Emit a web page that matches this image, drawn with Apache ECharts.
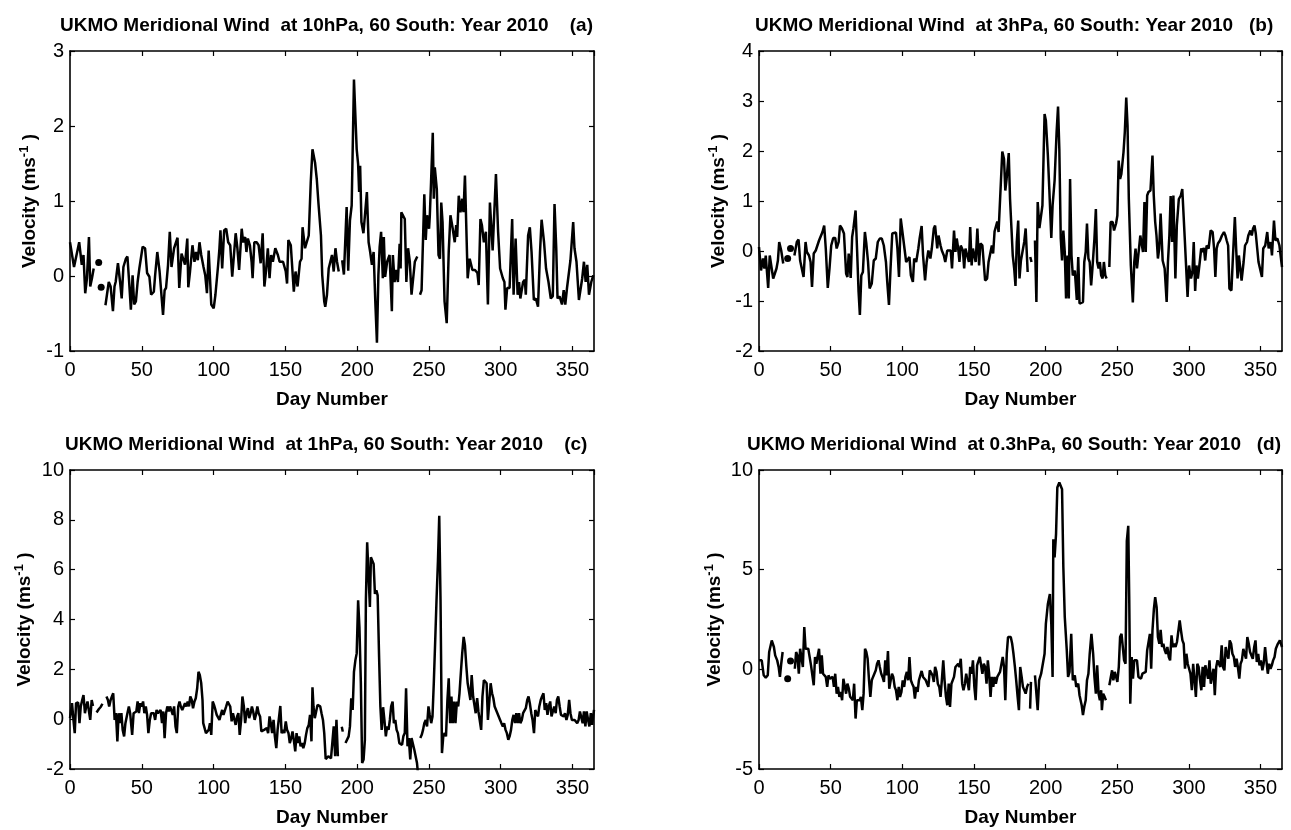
<!DOCTYPE html>
<html><head><meta charset="utf-8">
<script src="https://cdn.jsdelivr.net/npm/echarts@6/dist/echarts.min.js"></script>
<style>html,body{margin:0;padding:0;background:#fff}#c{width:1291px;height:830px}</style>
</head><body><div id="c"></div><script>
const titles = [
  'UKMO Meridional Wind  at 10hPa, 60 South: Year 2010    (a)',
  'UKMO Meridional Wind  at 3hPa, 60 South: Year 2010   (b)',
  'UKMO Meridional Wind  at 1hPa, 60 South: Year 2010    (c)',
  'UKMO Meridional Wind  at 0.3hPa, 60 South: Year 2010   (d)'
];
const xLabel = 'Day Number';
const yLabel = 'Velocity (ms{sup|-1} )';
const dayTicks = [0, 365, 50];
const yTicksA = [-1, 3, 1];
const yTicksB = [-2, 4, 1];
const yTicksC = [-2, 10, 2];
const yTicksD = [-5, 10, 5];

// [day, velocity] pairs; null breaks the line
const windA = [[0,0.45],[2.8,0.12],[6.4,0.45],[8.2,0.15],[9.4,0.28],[10.6,-0.23],[11.8,-0.03],[13.2,0.52],[14.1,-0.14],[15.3,-0.03],[16.5,0.10],[18,null],
[24.7,-0.39],[27,-0.08],[28.3,-0.14],[29.9,-0.47],[31,-0.14],[31.8,-0.08],[33.4,0.17],[34.9,-0.08],[36,-0.30],[37.2,0.12],[38.9,0.23],[40,0.26],[41.2,-0.08],[42.4,-0.45],[43.6,0.01],[44.7,-0.38],[45.9,-0.34],[47.1,-0.08],[48.3,0.10],[49.5,0.12],[50.6,0.39],[52.3,0.37],[53.7,0.04],[55.3,-0.01],[56.5,-0.25],[58.4,-0.21],[59.3,0.01],[60.8,0.32],[62.4,0.06],[64.8,-0.52],[65.9,-0.19],[66.9,-0.16],[68.3,0.15],[69.5,0.59],[70.7,0.12],[72.5,0.37],[74.9,0.51],[76.1,-0.16],[77.7,0.30],[80.1,0.15],[81.7,0.50],[82.4,-0.15],[83.6,0.06],[85.3,0.41],[86.7,0.19],[87.8,0.32],[89,0.21],[90.2,0.45],[91.4,0.28],[93,0.12],[94.2,0.01],[95.4,-0.23],[96.6,0.34],[98.4,-0.38],[100.1,-0.43],[101.3,-0.25],[103.2,0.15],[104.1,0.37],[104.8,0.61],[106,0.10],[107.4,0.61],[108.8,0.63],[110.2,0.45],[111.6,0.41],[113,-0.01],[114.2,0.28],[115.4,0.57],[116.6,0.37],[117.8,0.08],[119.6,0.63],[120.6,0.45],[122,0.52],[122.9,0.32],[123.9,0.50],[125.3,0.41],[126.5,0.19],[127.2,-0.03],[128.4,0.45],[130,0.45],[131.4,0.41],[132.8,0.17],[134.2,0.57],[135.4,-0.14],[136.6,0.08],[137.8,0.37],[139,-0.03],[140.1,0.28],[141.3,0.19],[143,0.37],[144.8,0.28],[146,0.19],[148.4,0.19],[150.3,0.06],[151.2,-0.10],[152.1,0.48],[153.8,0.41],[155.9,-0.21],[157.1,0.06],[158.5,-0.14],[160.2,0.19],[161.3,0.23],[162,0.65],[163.7,0.37],[164.9,0.45],[166.3,0.54],[167.7,1.25],[168.9,1.69],[170.7,1.51],[171.9,1.29],[173.1,0.96],[173.8,0.94],[174.8,0.54],[175.7,0.01],[177.1,-0.34],[177.8,-0.41],[179,-0.25],[180.2,0.10],[181.3,0.10],[182.5,0.28],[183.7,0.06],[184.9,0.37],[186,0.19],[187.2,0.06],[188.4,null],
[189.6,0.21],[190.8,0.02],[192.7,0.92],[193.8,0.07],[195,0.74],[196.2,0.94],[197.8,2.62],[199.7,1.69],[200.7,1.49],[201.4,1.12],[202.1,1.47],[203,0.72],[204.4,0.57],[206.8,1.12],[208,0.45],[209.1,0.32],[210.3,0.15],[211.5,0.32],[212.7,-0.36],[213.8,-0.89],[214.8,0.01],[215.7,0.39],[216.7,0.59],[217.9,-0.03],[218.6,0.52],[219.5,-0.01],[220.9,0.19],[222.6,0.28],[224.2,-0.47],[224.9,0.28],[226.1,-0.08],[227.3,0.08],[228.4,-0.08],[229.6,0.43],[230.3,0.10],[230.8,0.85],[232,0.83],[233.2,0.76],[234.3,-0.08],[235.5,0.37],[236.7,0.19],[237.9,-0.25],[239,-0.23],[240.2,0.19],[241.9,0.26],[243,null],
[243.8,-0.25],[244.9,-0.19],[246.8,1.09],[247.8,0.48],[248.7,0.81],[250.1,0.63],[250.6,0.79],[251.5,1.25],[252.7,1.91],[253.4,1.03],[254.1,1.45],[255.5,1.16],[256.7,0.28],[257.7,0.23],[258.6,0.98],[259.5,0.72],[260.9,-0.34],[262.4,-0.63],[263.8,0.32],[265,0.81],[266.6,0.63],[268,0.45],[269,0.68],[269.7,0.52],[270.8,1.07],[272,0.85],[273.2,1.03],[274.1,0.85],[275.1,1.34],[276,1.36],[277,-0.03],[278.4,0.23],[280.3,0.08],[282.1,0.08],[283.8,0.04],[284.7,-0.12],[285.9,0.76],[286.9,0.68],[288.3,0.45],[289.7,0.59],[291.1,-0.38],[292.5,0.98],[294.4,0.34],[296.7,1.36],[298.2,0.59],[299.6,0.10],[301.5,-0.03],[302.6,-0.08],[303.3,-0.45],[304.5,-0.16],[306.2,-0.16],[308,0.76],[309,-0.25],[310.4,0.50],[311.8,-0.25],[312.8,-0.08],[313.7,-0.30],[315.6,-0.08],[316.8,-0.05],[317.5,-0.25],[319.1,0.54],[320.3,0.65],[321.5,0.32],[323.1,-0.32],[324.5,-0.30],[326,-0.41],[327.4,0.32],[328.5,0.75],[330.2,0.45],[331.6,0.10],[333.3,-0.08],[334.9,-0.30],[336.3,-0.27],[337.5,0.96],[338.7,0.37],[339.6,-0.30],[341,-0.27],[342.7,-0.38],[343.9,-0.19],[345,-0.38],[346.2,-0.16],[348.6,0.21],[350.5,0.72],[351.4,0.37],[352.8,0.19],[354.5,-0.32],[355.7,-0.34],[356.8,-0.03],[358,0.19],[359.2,-0.08],[360.3,0.15],[361.5,-0.25],[363.1,-0.08],[364.5,0.01]];
const dotsA = [[20,0.18],[21.7,-0.15]];

const windB = [[0,0.08],[1.4,-0.39],[2.8,-0.15],[3.8,-0.35],[4.7,-0.09],[6.4,-0.74],[7.5,-0.09],[8.7,-0.12],[9.9,-0.55],[10.8,-0.59],[12.2,-0.35],[13.2,-0.19],[14.1,0.18],[15.5,0.01],[16.9,-0.25],[18.5,null],
[24.7,-0.09],[26.4,0.18],[27.6,0.23],[28.7,-0.19],[29.9,-0.22],[31.1,-0.52],[32.5,0.18],[33.4,-0.02],[34.9,-0.09],[36,-0.22],[37,-0.72],[38.2,-0.05],[39.6,0.01],[40.7,0.01],[41.9,0.21],[43.1,0.21],[44.3,0.38],[45.5,0.51],[46.6,0.05],[48,-0.74],[49.2,-0.35],[50.4,0.11],[51.8,0.26],[53.2,0.26],[54.2,0.05],[55.6,0.18],[56.5,0.51],[57.9,0.45],[59.3,0.35],[60.8,-0.45],[61.7,-0.52],[62.6,-0.05],[64,-0.54],[65,0.28],[65.9,0.45],[67.4,0.81],[68.5,-0.02],[69.5,-0.82],[70.4,-1.28],[71.4,-0.49],[72.5,-0.42],[73.9,0.38],[74.9,0.15],[76.1,-0.22],[77.2,-0.75],[78.7,-0.65],[80.1,-0.19],[81.5,-0.15],[82.9,0.18],[84.3,0.25],[85.7,0.25],[87.1,0.11],[88.6,-0.22],[89.5,-0.62],[90.7,-1.08],[91.8,-0.35],[93,0.35],[94.2,0.38],[95.6,0.37],[96.6,0.05],[97.7,-0.52],[98.9,0.65],[100.1,0.38],[101.3,0.38],[102.7,-0.22],[103.6,-0.25],[105,-0.12],[106,-0.49],[107.4,-0.62],[108.3,-0.15],[109.7,-0.22],[111.2,0.05],[112.1,0.25],[113.5,0.50],[114.5,-0.09],[115.9,-0.59],[117,-0.22],[118.2,0.01],[119.6,-0.15],[120.6,0.05],[122,0.45],[122.9,0.51],[124.4,0.05],[125.3,0.31],[126.7,0.11],[127.6,0.01],[129,-0.09],[130,-0.22],[131.4,0.01],[132.4,-0.02],[133.8,0.01],[134.7,-0.35],[136.1,0.41],[137.1,-0.02],[138,0.25],[139,0.05],[139.9,-0.22],[140.8,0.11],[142.3,0.01],[143.2,-0.35],[144.1,0.05],[145.1,0.08],[146.5,-0.22],[147.4,0.48],[148.4,-0.29],[149.3,0.05],[150.3,-0.09],[151.2,-0.22],[152.4,0.45],[153.6,-0.29],[154.5,0.15],[155.9,0.11],[156.8,0.15],[157.8,-0.59],[159.2,-0.55],[160.2,-0.22],[161.5,-0.22],[162.5,0.11],[163.4,-0.05],[164.4,0.39],[165.3,0.35],[166.3,0.59],[167.2,0.38],[168.4,0.41],[169.8,1.99],[171,1.84],[171.9,1.21],[172.8,1.44],[174.3,1.96],[175.2,1.04],[176.2,0.45],[177.1,-0.09],[178.1,-0.35],[179,-0.70],[179.9,0.18],[180.9,0.61],[181.8,-0.55],[182.8,-0.19],[183.7,-0.15],[185.1,0.18],[186.1,0.45],[187.5,-0.42],[188.4,null],[189.3,-0.12],[190.2,-0.22],[191.4,null],
[192.6,0.21],[193.6,-1.02],[194.5,0.98],[195.7,0.46],[196.8,0.45],[197.8,0.91],[199.3,2.74],[200.2,2.61],[201.6,1.91],[202.6,1.24],[204,0.26],[204.9,0.91],[206.3,1.41],[206.8,1.39],[207.7,2.38],[208.7,2.89],[209.6,2.04],[210.6,0.25],[211.5,-0.19],[212.4,0.41],[213.4,-0.02],[214.3,-0.95],[215.3,-0.09],[216.2,-0.95],[217.1,1.44],[218.1,-0.09],[219,-0.49],[220.4,-0.39],[221.8,-0.98],[222.8,-0.12],[223.7,-1.05],[224.7,-1.08],[226.1,-1.02],[227,-0.22],[228,-0.02],[228.9,0.55],[229.9,-0.15],[230.8,-0.22],[231.8,-0.69],[232.7,-0.35],[234.1,0.25],[235.1,0.84],[236,-0.22],[237,-0.35],[237.9,-0.22],[238.8,-0.49],[239.8,-0.55],[240.7,-0.22],[241.7,-0.49],[242.6,-0.55],[243.5,null],
[244.5,-0.32],[245.4,0.58],[246.8,0.58],[247.8,0.41],[249.2,0.55],[250.1,0.71],[251,1.81],[252,1.44],[252.9,1.54],[254.4,1.98],[255.3,2.38],[256.3,3.07],[257.2,2.51],[258.1,1.04],[259.5,-0.29],[260.9,-1.03],[261.9,-0.22],[262.8,0.05],[263.8,-0.35],[265.2,0.05],[266.1,0.31],[267.1,0.35],[268,-0.02],[269,0.98],[269.9,-0.02],[270.9,1.11],[271.8,1.18],[273.2,1.21],[274.6,1.91],[275.5,1.11],[276.5,0.58],[277.4,0.31],[278.4,-0.15],[279.3,0.05],[280.3,0.75],[281.7,-0.19],[283.1,-0.35],[284.5,-1.02],[285.4,-0.22],[286.4,0.31],[287.3,1.10],[288.3,0.18],[289.2,1.11],[290.6,-0.55],[291.6,0.51],[293,1.04],[294.4,1.11],[295.4,1.24],[296.3,1.24],[297.2,0.21],[298.2,0.25],[299.1,-0.92],[300.1,-0.29],[301.5,-0.55],[302.5,-0.42],[303.4,0.18],[304.4,-0.80],[305.3,-0.29],[306.3,-0.55],[307.6,-0.22],[308.6,0.05],[309.5,-0.02],[310.5,0.06],[311.4,-0.19],[312.4,0.11],[313.8,0.05],[315.2,0.41],[316.6,0.38],[317.6,0.05],[318.5,-0.52],[319.4,0.05],[320.3,0.15],[321.7,0.21],[323.1,0.31],[324.5,0.38],[325.5,0.31],[326.4,0.21],[327.4,0.11],[328.3,-0.75],[329.7,-0.79],[330.7,-0.15],[332.1,0.68],[333,0.05],[334,-0.55],[334.9,-0.09],[335.9,-0.05],[336.8,-0.59],[338.2,-0.22],[339.2,0.11],[340.6,0.18],[341.5,0.31],[342.9,0.41],[343.9,0.31],[344.8,0.45],[345.8,0.51],[346.7,0.35],[347.7,0.05],[348.6,-0.22],[349.6,-0.25],[351,-0.52],[351.9,0.05],[353.3,0.11],[354.7,0.38],[355.7,0.05],[357.1,0.18],[358,-0.09],[359.4,0.61],[360.4,0.21],[361.8,0.25],[363.2,0.11],[365,-0.32]];
const dotsB = [[20,-0.15],[22,0.05]];

const windC = [[0,0.04],[1.4,0.64],[2.4,-0.03],[3.3,-0.56],[4.2,0.64],[5.7,0.67],[6.6,-0.16],[7.5,0.51],[8.5,0.77],[9.4,0.97],[10.4,0.24],[11.3,0.51],[12.2,0.71],[13.2,0.77],[14.1,-0.03],[15.1,0.77],[16,0.53],[17.3,null],[18.5,0.27],[20,0.40],[21.5,0.50],[22.6,0.62],[24,null],
[25.4,0.91],[26.4,0.77],[27.3,0.51],[28.3,0.77],[29.2,0.91],[30.1,1.04],[31.1,-0.03],[32,0.24],[33,-0.89],[33.9,0.24],[34.9,-0.16],[35.8,0.24],[36.7,-0.43],[37.7,-0.69],[38.6,-0.16],[40,0.24],[41,0.51],[41.9,0.24],[43.3,-0.63],[44.3,0.24],[45.2,0.24],[46.2,0.31],[47.1,0.71],[48,0.24],[49,0.64],[49.9,0.51],[50.9,0.71],[51.8,0.24],[52.8,0.51],[53.7,0.17],[54.6,-0.56],[55.6,-0.03],[56.5,0.24],[57.5,0.17],[58.4,0.24],[59.3,-0.03],[60.3,0.37],[61.2,0.24],[62.2,0.17],[63.1,0.37],[64.1,-0.16],[65,0.31],[65.9,-0.76],[66.9,0.24],[67.8,0.51],[68.8,0.31],[69.7,0.51],[70.7,0.51],[71.6,0.17],[72.5,0.51],[73.5,-0.29],[74.4,-0.56],[75.4,0.51],[76.3,0.71],[77.2,0.51],[78.2,0.37],[79.1,0.31],[80.1,0.64],[81,0.51],[82,0.71],[82.9,0.51],[83.8,0.91],[84.8,0.77],[85.7,0.44],[86.7,0.71],[87.6,0.84],[88.6,1.24],[89.5,1.90],[90.4,1.77],[91.4,1.44],[92.3,0.77],[92.8,-0.16],[93.7,-0.23],[94.7,-0.56],[95.6,-0.56],[96.6,-0.43],[97.5,-0.16],[98.4,-0.63],[99.4,0.71],[100.3,0.57],[101.3,0.37],[102.2,0.17],[103.2,0.24],[104.1,-0.03],[105,0.17],[106,0.37],[106.9,0.17],[107.9,0.24],[108.8,0.51],[109.8,0.71],[110.7,0.71],[111.6,0.51],[112.6,-0.09],[113.5,0.24],[114.5,0.17],[115.4,-0.23],[116.4,0.11],[117.3,0.24],[118.2,-0.63],[119.2,-0.03],[120.1,0.91],[121.1,0.51],[122,-0.16],[122.9,0.24],[123.9,0.44],[124.8,0.04],[125.8,0.24],[126.7,0.51],[127.6,0.31],[128.6,-0.03],[129.5,0.17],[130.5,0.51],[131.4,0.24],[132.4,0.11],[133.3,-0.49],[134.3,-0.56],[135.2,-0.43],[136.1,-0.49],[137.1,-0.36],[138,-0.56],[139,0.11],[139.9,-0.16],[140.8,-0.56],[141.8,-0.03],[142.7,-0.69],[143.7,-1.16],[144.6,-0.43],[145.6,-0.43],[146.5,0.53],[147.4,-0.56],[148.4,-0.43],[149.3,-0.56],[150.3,-0.09],[151.2,-0.43],[152.2,-0.56],[153.1,-0.96],[154.1,-0.76],[155,-0.49],[155.9,-0.83],[156.9,-1.29],[157.8,-0.56],[158.8,-0.96],[159.7,-0.69],[160.6,-1.09],[161.6,-0.96],[162.5,-1.16],[163.5,-0.96],[164.4,-0.63],[165.3,-0.36],[166.3,-0.23],[167.2,0.17],[168.2,-0.89],[168.9,1.28],[169.6,0.51],[170.5,0.04],[171.5,0.11],[172.4,0.57],[173.4,0.61],[174.3,0.51],[175.2,0.24],[176.2,-0.03],[177.1,-0.56],[178.1,-1.60],[179,-1.56],[179.9,-1.49],[180.9,-1.49],[181.8,-1.57],[182.8,-1.49],[183.7,-0.29],[184.7,-1.49],[185.6,-0.03],[186.6,-1.49],[188,null],[189.3,-0.30],[190,-0.50],[190.8,null],
[191.9,-0.96],[193.1,-0.89],[194.1,-0.69],[195,-0.29],[195.9,0.84],[196.9,0.37],[197.8,1.90],[198.8,2.37],[199.7,2.64],[200.7,4.77],[201.6,3.70],[202.6,1.44],[203.5,-1.76],[204.5,-1.62],[205.4,-0.83],[206.1,4.77],[207,7.10],[208,5.70],[208.9,4.50],[209.6,6.50],[210.6,6.43],[211.5,6.23],[212.4,5.03],[213.4,5.17],[214.3,4.97],[215.3,2.50],[216.2,0.51],[217.1,-0.43],[218.1,0.48],[219,-0.03],[220,-0.69],[220.9,-0.29],[221.9,-0.43],[222.8,-0.03],[223.7,0.51],[224.7,0.71],[225.6,-0.16],[226.6,-0.03],[227.5,-0.43],[228.4,-0.56],[229.4,-0.96],[230.3,-0.89],[231.3,-1.03],[232.2,-0.69],[233.2,-0.56],[234.1,1.24],[235.1,-1.09],[236,-0.76],[237,-1.62],[237.9,-0.76],[238.8,-0.83],[239.8,-1.22],[240.7,-1.22],[241.7,-1.76],[242.6,-2.30],[243.3,null],
[244,-0.76],[245,-0.63],[245.9,-0.43],[246.8,-0.16],[247.8,-0.03],[248.7,-0.29],[249.7,0.51],[250.6,0.17],[251.6,-0.16],[252.5,0.11],[253.4,1.44],[254.4,3.17],[255.3,4.77],[256.3,6.36],[257.2,8.16],[258.1,4.77],[259.1,-1.36],[260,-0.69],[261,-0.56],[261.9,-0.69],[262.9,0.77],[263.8,1.64],[264.8,-0.16],[265.7,0.91],[266.6,-0.16],[267.6,0.71],[268.5,-0.16],[269.5,0.71],[270.4,0.51],[271.3,1.04],[272.3,1.90],[273.2,2.64],[274.2,3.30],[275.1,2.97],[276.1,2.10],[277,1.44],[278,1.37],[278.9,0.77],[279.8,1.77],[280.8,0.91],[281.7,0.97],[282.6,0.24],[283.6,0.84],[284.5,0.31],[285.5,0.37],[286.4,-0.43],[287.3,0.91],[288.3,1.57],[289.2,1.57],[290.2,1.44],[291.1,-0.03],[292.1,0.71],[293,1.44],[294,1.04],[294.9,0.84],[295.8,0.51],[296.8,0.57],[297.7,0.24],[298.7,0.17],[299.6,-0.03],[300.5,-0.16],[301.5,-0.29],[302.4,-0.16],[303.4,-0.43],[304.3,-0.56],[305.3,-0.83],[306.2,-0.69],[307.2,-0.43],[308.1,-0.03],[309,0.17],[310,-0.16],[310.9,0.24],[311.9,-0.16],[312.8,0.24],[313.7,-0.16],[314.7,-0.03],[315.6,0.24],[316.6,0.17],[317.5,0.44],[318.5,0.77],[319.4,0.91],[320.3,0.64],[321.3,0.24],[322.2,-0.03],[323.2,-0.56],[324.1,0.37],[325,0.24],[326,0.11],[326.9,0.51],[327.9,0.77],[328.8,0.91],[329.8,1.04],[330.7,0.37],[331.7,0.64],[332.6,0.17],[333.5,0.51],[334.5,0.71],[335.4,0.11],[336.4,0.17],[337.3,0.51],[338.3,0.24],[339.2,0.77],[340.1,0.91],[341.1,0.51],[342,0.17],[343,0.24],[343.9,0.11],[344.8,0.24],[345.8,-0.03],[346.7,0.17],[347.7,0.77],[348.6,0.24],[349.6,-0.03],[350.5,0.04],[351.5,-0.03],[352.4,-0.03],[353.3,-0.16],[354.3,-0.03],[355.2,0.31],[356.1,0.37],[357.1,-0.16],[358,0.31],[359,-0.29],[359.9,0.31],[360.9,-0.03],[361.8,-0.29],[362.8,0.24],[363.7,-0.23],[365,0.37]];
const dotsC = [];

const windD = [[0,0.45],[1.9,0.45],[3.3,-0.30],[4.7,-0.42],[6.1,-0.30],[7.1,0.87],[8,0.82],[8.9,1.45],[10.4,1.12],[11.3,0.70],[12.7,0.45],[13.7,0.12],[14.6,-0.38],[15.5,0.28],[16.5,0.87],[18,null],
[25,0.03],[25.9,0.87],[26.8,0.70],[27.8,-0.22],[28.7,1.03],[29.7,0.95],[30.6,0.12],[31.6,2.12],[32.5,1.03],[33.4,1.12],[34.4,1.03],[35.3,1.12],[36.3,0.20],[37.2,0.28],[38.2,-0.80],[39.1,0.62],[40,0.28],[41,0.20],[41.9,1.03],[42.9,-0.22],[43.8,0.70],[44.7,-0.22],[45.7,-0.30],[46.6,-0.38],[47.6,-0.88],[48.5,-0.30],[49.5,-0.47],[50.4,-0.55],[51.4,-0.38],[52.3,-0.88],[53.2,-0.22],[54.2,-1.22],[55.1,-0.88],[56.1,-1.38],[57,-1.13],[58,-1.55],[58.9,-0.47],[59.8,-0.55],[60.8,-1.22],[61.7,-0.72],[62.7,-0.97],[63.6,-1.38],[64.6,-1.38],[65.5,-1.55],[66.4,-0.72],[67.4,-2.47],[68.3,-1.55],[69.3,-1.47],[70.2,-1.55],[71.1,-1.38],[72.1,-2.05],[73,-1.22],[74,1.03],[74.9,0.87],[75.8,0.53],[76.8,-0.55],[77.7,-1.38],[78.7,-0.55],[79.6,-0.38],[80.5,-0.30],[81.5,-0.05],[82.4,0.28],[83.4,0.45],[84.3,0.12],[85.3,-0.22],[86.2,-0.38],[87.2,-0.63],[88.1,0.45],[89,-0.30],[90,0.92],[90.9,-0.97],[91.9,-0.55],[92.8,-0.22],[93.7,-0.38],[94.7,-0.88],[95.6,-1.05],[96.6,-1.55],[97.5,-0.88],[98.4,-1.38],[99.4,-1.13],[100.3,-0.55],[101.3,-0.88],[102.2,-0.38],[103.2,-0.13],[104.1,-0.55],[105,0.62],[106,-0.55],[106.9,-0.72],[107.9,-0.88],[108.8,-1.47],[109.8,-0.88],[110.7,-1.13],[111.6,-0.55],[112.6,-0.30],[113.5,-0.08],[114.5,-0.38],[115.4,-0.30],[116.4,-0.55],[117.3,-0.72],[118.2,-0.88],[119.2,-0.05],[120.1,0.03],[121.1,-0.30],[122,-0.63],[122.9,0.12],[123.9,-0.13],[124.8,-0.72],[125.8,-0.88],[126.7,-1.38],[127.6,-0.55],[128.6,0.45],[129.5,-0.55],[130.5,-1.38],[131.4,-1.80],[132.4,-0.72],[133.3,-1.88],[134.3,-0.72],[135.2,-0.72],[136.1,-0.38],[137.1,0.12],[138,0.12],[139,0.28],[139.9,0.12],[140.8,0.53],[141.8,-0.72],[142.7,-1.05],[143.7,-0.72],[144.6,-0.22],[145.6,-0.30],[146.5,-1.05],[147.4,0.12],[148.4,-0.22],[149.3,0.45],[150.3,-0.88],[151.2,-1.55],[152.2,0.20],[153.1,0.12],[154.1,0.62],[155,0.62],[155.9,-0.22],[156.9,0.28],[157.8,0.12],[158.8,-0.72],[159.7,0.45],[160.6,-0.22],[161.6,-1.38],[162.5,-0.38],[163.5,-0.88],[164.4,-0.38],[165.3,-0.72],[166.3,-0.38],[167.2,-0.30],[168.2,-0.13],[169.1,-0.05],[170.1,0.62],[171,0.12],[171.9,-1.55],[172.9,0.78],[173.8,1.62],[174.8,1.62],[175.7,1.62],[176.7,1.28],[177.6,0.78],[178.6,0.12],[179.5,-0.55],[180.5,-1.38],[181.4,-2.05],[182.3,0.12],[183.3,-0.38],[184.2,-0.88],[185.2,-1.05],[186.1,-1.22],[187.1,-0.88],[188,-0.72],[188.6,null],[189.2,-1.97],[189.8,-0.63],[191,null],
[192.6,-0.30],[194.5,-2.05],[195.5,-0.55],[196.9,-0.22],[197.8,-0.30],[199.3,0.78],[200.2,2.28],[201.6,3.28],[203,3.78],[204,2.28],[204.9,-0.38],[205.4,6.53],[206.3,5.62],[207.3,6.78],[208.2,9.12],[209.6,9.37],[210.6,9.45],[211.5,9.03],[212.4,5.12],[213.4,2.62],[214.8,0.95],[215.7,-0.38],[216.7,-0.13],[217.9,1.78],[219,-0.55],[220.4,-0.30],[221.4,-0.88],[222.8,-0.72],[223.7,-1.30],[225.2,-1.80],[226.1,-2.30],[227,-1.88],[228,-1.55],[228.9,-0.55],[229.9,-0.22],[230.8,0.78],[232,1.78],[233.2,0.78],[234.1,-0.38],[235.1,-1.22],[236,0.20],[237,-1.22],[237.9,-1.55],[238.8,-1.05],[239.3,-2.05],[240.2,-1.22],[241.2,-1.38],[242.1,-1.55],[243.3,null],
[244.5,-0.80],[245.4,-0.72],[246.4,-0.05],[247.3,-0.55],[248.3,-0.13],[249.2,-0.22],[250.1,-0.63],[251.1,0.12],[252,1.62],[253,1.78],[253.9,1.12],[254.8,0.45],[255.8,0.28],[256.7,6.45],[257.7,7.20],[258.4,3.45],[259.1,-1.72],[260.1,0.62],[261,-0.47],[261.9,0.45],[262.9,0.53],[263.8,0.45],[264.8,-0.38],[265.7,-0.47],[266.6,-0.47],[267.6,-0.22],[268.5,-0.22],[269.9,-0.13],[270.9,0.95],[271.8,1.03],[272.8,1.78],[273.7,0.03],[274.6,1.95],[275.6,3.03],[276.5,3.62],[277.5,3.12],[278.4,1.62],[279.4,1.28],[280.3,1.98],[281.3,1.12],[282.2,1.28],[283.2,0.95],[284.1,0.78],[285,1.12],[286,0.62],[286.9,0.45],[287.9,1.70],[288.8,1.12],[289.8,1.28],[290.7,1.12],[291.7,1.37],[292.6,1.28],[293.6,2.45],[294.5,1.95],[295.5,1.45],[296.4,1.28],[297.3,0.03],[298.3,0.78],[299.2,0.28],[300.2,0.28],[301.1,-0.22],[302.1,-1.05],[303,0.28],[304,-0.55],[304.9,-1.38],[305.9,0.28],[306.8,0.12],[307.8,-0.55],[308.7,-1.05],[309.6,0.12],[310.6,-0.88],[311.5,0.20],[312.5,0.12],[313.4,-0.47],[314.4,0.45],[315.3,-0.72],[316.3,-0.72],[317.2,0.03],[318.1,-1.30],[319.1,0.12],[320,0.45],[321,0.45],[321.9,0.12],[322.9,1.20],[323.8,0.12],[324.8,-0.05],[325.7,1.12],[326.6,0.78],[327.6,0.53],[328.5,1.45],[329.5,1.28],[330.4,0.78],[331.4,0.62],[332.3,0.12],[333.3,0.53],[334.2,0.12],[335.2,-0.47],[336.1,0.28],[337,0.45],[338,1.03],[338.9,0.78],[339.9,0.53],[340.8,1.62],[341.8,1.28],[342.7,0.87],[343.7,0.95],[344.6,0.53],[345.6,1.12],[346.5,1.45],[347.4,0.37],[348.4,0.78],[349.3,0.20],[350.3,0.45],[351.3,-0.05],[352.2,0.28],[353.2,1.12],[354.1,0.45],[355.1,-0.22],[356,0.28],[357,0.03],[357.9,0.20],[358.8,0.45],[359.8,0.62],[360.7,1.03],[362.1,1.28],[363.5,1.45],[365,1.12]];
const dotsD = [[20,-0.47],[22,0.42]];

const FONT = 'Liberation Sans, Arial, Helvetica, sans-serif';
const panels = [
  {title: titles[0], tl: [60, 16], grid: {left: 70, top: 51, width: 524, height: 300}, y: yTicksA, line: windA, dots: dotsA, yGap: 28},
  {title: titles[1], tl: [755, 16], grid: {left: 759, top: 51, width: 523, height: 300}, y: yTicksB, line: windB, dots: dotsB, yGap: 28},
  {title: titles[2], tl: [65, 435], grid: {left: 70, top: 470, width: 524, height: 299}, y: yTicksC, line: windC, dots: dotsC, yGap: 33},
  {title: titles[3], tl: [747, 435], grid: {left: 759, top: 470, width: 523, height: 299}, y: yTicksD, line: windD, dots: dotsD, yGap: 32}
];

const axisLine = {show: true, onZero: false, lineStyle: {color: '#000', width: 1.6}};
const tick = {show: true, inside: true, length: 5, lineStyle: {color: '#000', width: 1.2}};
const lbl = {color: '#000', fontSize: 20, fontFamily: FONT};

const option = {animation: false, backgroundColor: '#fff', title: [], grid: [], xAxis: [], yAxis: [], series: []};
panels.forEach((p, i) => {
  option.title.push({text: p.title, left: p.tl[0], top: p.tl[1], padding: 0,
    textStyle: {fontSize: 19, fontWeight: 'bold', fontFamily: FONT, color: '#000'}});
  option.grid.push(Object.assign({containLabel: false}, p.grid));
  option.xAxis.push({gridIndex: i, type: 'value', min: dayTicks[0], max: dayTicks[1], interval: dayTicks[2], position: 'bottom',
    axisLine, axisTick: tick, splitLine: {show: false},
    axisLabel: Object.assign({margin: 9, showMaxLabel: false, formatter: v => (v % 50 === 0 ? String(v) : '')}, lbl),
    name: xLabel, nameLocation: 'middle', nameGap: 39,
    nameTextStyle: {fontSize: 19, fontWeight: 'bold', fontFamily: FONT, color: '#000'}});
  option.xAxis.push({gridIndex: i, type: 'value', min: dayTicks[0], max: dayTicks[1], interval: dayTicks[2], position: 'top',
    axisLine, axisTick: tick, splitLine: {show: false}, axisLabel: {show: false}});
  option.yAxis.push({gridIndex: i, type: 'value', min: p.y[0], max: p.y[1], interval: p.y[2], position: 'left',
    axisLine, axisTick: tick, splitLine: {show: false},
    axisLabel: Object.assign({margin: 6}, lbl),
    name: yLabel, nameLocation: 'middle', nameGap: p.yGap, nameRotate: 90,
    nameTextStyle: {fontSize: 19, fontWeight: 'bold', fontFamily: FONT, color: '#000', lineHeight: 24,
      rich: {sup: {fontSize: 13, fontWeight: 'bold', fontFamily: FONT, color: '#000', verticalAlign: 'top', lineHeight: 24}}}});
  option.yAxis.push({gridIndex: i, type: 'value', min: p.y[0], max: p.y[1], interval: p.y[2], position: 'right',
    axisLine, axisTick: tick, splitLine: {show: false}, axisLabel: {show: false}});
  option.series.push({type: 'line', xAxisIndex: 2 * i, yAxisIndex: 2 * i, data: p.line, showSymbol: false, symbol: 'none',
    connectNulls: false, clip: true, lineStyle: {color: '#000', width: 2.5}, z: 3});
  if (p.dots.length) option.series.push({type: 'scatter', xAxisIndex: 2 * i, yAxisIndex: 2 * i, data: p.dots,
    symbol: 'circle', symbolSize: 7, itemStyle: {color: '#000', opacity: 1}, z: 4});
});

const chart = echarts.init(document.getElementById('c'), null, {renderer: 'canvas'});
chart.setOption(option);
</script></body></html>
